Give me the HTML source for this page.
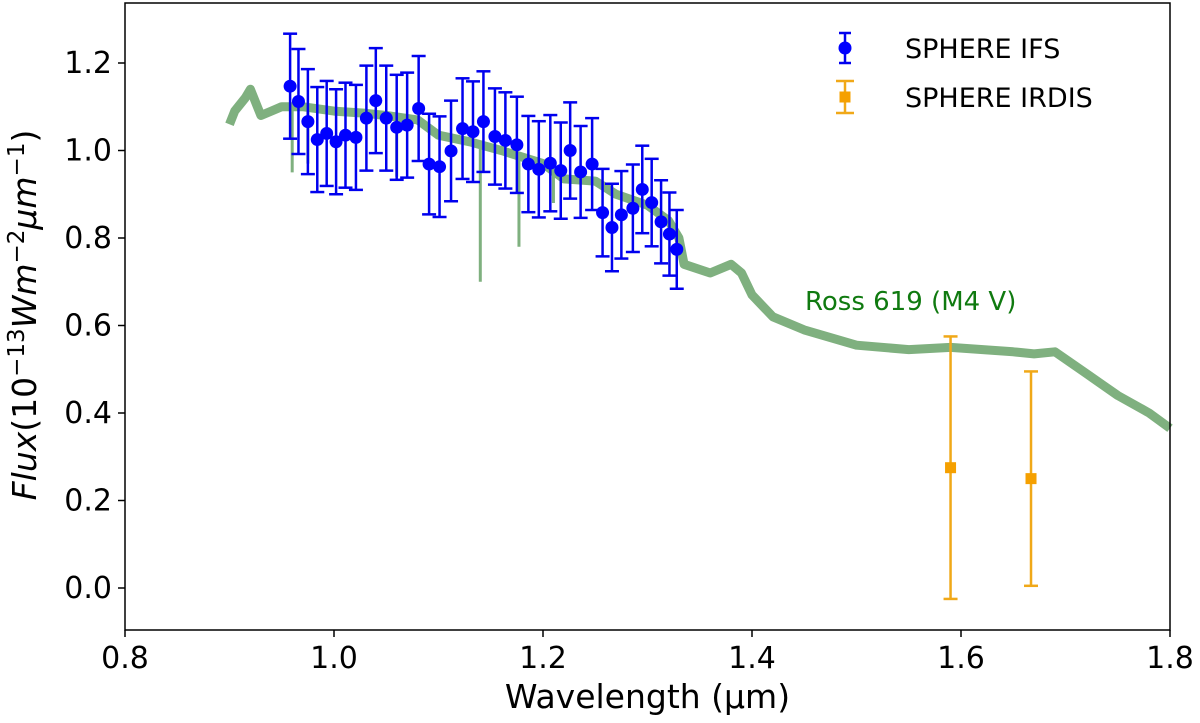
<!DOCTYPE html>
<html><head><meta charset="utf-8"><style>
body{margin:0;background:#fff;}
svg{display:block;font-family:"DejaVu Sans","Liberation Sans",sans-serif;}
</style></head><body>
<svg id="chart" width="1200" height="723">
<g id="plot"></g>
<g id="axes"></g>
</svg>
<script>
const specWl=[0.9,0.905,0.915,0.92,0.93,0.94,0.95,0.97,1.0,1.03,1.05,1.08,1.1,1.13,1.16,1.2,1.22,1.25,1.27,1.3,1.32,1.33,1.335,1.36,1.38,1.39,1.4,1.42,1.45,1.5,1.55,1.59,1.65,1.67,1.69,1.72,1.75,1.78,1.8];
const specFlux=[1.06,1.09,1.12,1.14,1.08,1.09,1.10,1.10,1.09,1.085,1.08,1.07,1.035,1.02,1.0,0.97,0.935,0.93,0.9,0.875,0.84,0.8,0.74,0.72,0.74,0.72,0.67,0.62,0.59,0.555,0.545,0.55,0.54,0.535,0.54,0.49,0.44,0.40,0.365];
const dipWl=[0.96,0.975,1.06,1.14,1.177,1.21];
const dipFlux=[0.95,0.97,0.94,0.70,0.78,0.88];
const ifsWl=[0.958,0.966,0.975,0.984,0.993,1.002,1.011,1.021,1.031,1.040,1.050,1.060,1.070,1.081,1.091,1.101,1.112,1.123,1.133,1.143,1.154,1.164,1.175,1.186,1.196,1.207,1.217,1.226,1.236,1.247,1.257,1.266,1.275,1.286,1.295,1.304,1.313,1.321,1.328];
const ifsFlux=[1.147,1.112,1.066,1.025,1.039,1.020,1.035,1.030,1.074,1.114,1.074,1.053,1.058,1.096,0.969,0.963,0.999,1.050,1.043,1.066,1.032,1.023,1.013,0.969,0.957,0.971,0.954,1.000,0.951,0.969,0.858,0.824,0.853,0.868,0.911,0.881,0.837,0.809,0.774];
const ifsErr=[0.12,0.12,0.12,0.12,0.12,0.12,0.12,0.12,0.12,0.12,0.12,0.12,0.12,0.12,0.115,0.115,0.115,0.115,0.115,0.115,0.11,0.11,0.11,0.11,0.11,0.11,0.11,0.11,0.105,0.105,0.1,0.1,0.1,0.1,0.1,0.1,0.095,0.095,0.09];
const irdWl=[1.59,1.667];
const irdFlux=[0.275,0.25];
const irdErr=[0.30,0.245];
const xTicks=[0.8,1.0,1.2,1.4,1.6,1.8];
const yTicks=[0.0,0.2,0.4,0.6,0.8,1.0,1.2];

const L=125,R=1170,T=3,B=630;
const X=v=>L+(v-0.8)/(1.0)*(R-L);
const Y=v=>588-v*437.5;
const NS='http://www.w3.org/2000/svg';
function mk(tag,parent,attrs){const e=document.createElementNS(NS,tag);for(const k in attrs)e.setAttribute(k,attrs[k]);parent.appendChild(e);return e;}
const plot=document.getElementById('plot'),axes=document.getElementById('axes');

let d='';specWl.forEach((w,i)=>{d+=(i?'L':'M')+X(w).toFixed(1)+','+Y(specFlux[i]).toFixed(1);});
const sp=mk('path',plot,{d:d,fill:'none',stroke:'#7fb07f','stroke-width':9,'stroke-linejoin':'round'});


dipWl.forEach((w,i)=>{
  const ln=mk('line',plot,{x1:X(w),x2:X(w),y1:0,y2:Y(dipFlux[i]),stroke:'#7fb07f','stroke-width':3});
  let base=0;for(let j=0;j<specWl.length-1;j++){if(w>=specWl[j]&&w<=specWl[j+1]){const t=(w-specWl[j])/(specWl[j+1]-specWl[j]);base=specFlux[j]+t*(specFlux[j+1]-specFlux[j]);}}
  ln.setAttribute('y1',Y(base));
  
  
});
const lbl=mk('text',plot,{x:805,y:310,fill:'#107a10','font-size':26});
lbl.textContent='Ross 619 (M4 V)';



function errbar(w,f,e,col,name){
  const g=mk('g',plot,{stroke:col,'stroke-width':2.5});
  
  
  mk('line',g,{x1:X(w),x2:X(w),y1:Y(f-e),y2:Y(f+e)});
  mk('line',g,{x1:X(w)-7,x2:X(w)+7,y1:Y(f-e),y2:Y(f-e)});
  mk('line',g,{x1:X(w)-7,x2:X(w)+7,y1:Y(f+e),y2:Y(f+e)});
  return g;
}
ifsWl.forEach((w,i)=>{
  errbar(w,ifsFlux[i],ifsErr[i],'#0000ee','ifs-errorbar');
  const c=mk('circle',plot,{cx:X(w),cy:Y(ifsFlux[i]),r:6.5,fill:'#0000ff'});
  
  
});
irdWl.forEach((w,i)=>{
  errbar(w,irdFlux[i],irdErr[i],'#f0a818','irdis-errorbar');
  const s=mk('rect',plot,{x:X(w)-5.5,y:Y(irdFlux[i])-5.5,width:11,height:11,fill:'#f5a000'});
  
  
});

const fr=mk('rect',axes,{x:L,y:T,width:R-L,height:B-T,fill:'none',stroke:'#000','stroke-width':1.5});


xTicks.forEach(v=>{
  mk('line',axes,{x1:X(v),x2:X(v),y1:B,y2:B+7,stroke:'#000','stroke-width':1.5});
  const t=mk('text',axes,{x:X(v),y:B+38,'text-anchor':'middle','font-size':30});
  t.textContent=v.toFixed(1);
  
  
});
yTicks.forEach(v=>{
  mk('line',axes,{x1:L-7,x2:L,y1:Y(v),y2:Y(v),stroke:'#000','stroke-width':1.5});
  const t=mk('text',axes,{x:L-13,y:Y(v)+10,'text-anchor':'end','font-size':30});
  t.textContent=v.toFixed(1);
  
  
});
const xt=mk('text',axes,{x:(L+R)/2,y:708,'text-anchor':'middle','font-size':33});
xt.textContent='Wavelength (µm)';


const yt=mk('text',axes,{transform:'translate(36,315) rotate(-90)','text-anchor':'middle','font-size':33});
yt.innerHTML='<tspan font-style="italic">Flux</tspan>(10<tspan dy="-12" font-size="23">−13</tspan><tspan dy="12" font-style="italic">Wm</tspan><tspan dy="-12" font-size="23">−2</tspan><tspan dy="12" font-style="italic">μm</tspan><tspan dy="-12" font-size="23">−1</tspan><tspan dy="12">)</tspan>';



const lg=mk('g',axes,{});


const e1=mk('g',lg,{});


mk('line',e1,{x1:845,x2:845,y1:33,y2:63,stroke:'#0000ee','stroke-width':2.5});
mk('line',e1,{x1:839,x2:851,y1:33,y2:33,stroke:'#0000ee','stroke-width':2.5});
mk('line',e1,{x1:839,x2:851,y1:63,y2:63,stroke:'#0000ee','stroke-width':2.5});
mk('circle',e1,{cx:845,cy:48,r:6.5,fill:'#0000ff'});
const t1=mk('text',e1,{x:905,y:58,'font-size':27});t1.textContent='SPHERE IFS';
const e2=mk('g',lg,{});


mk('line',e2,{x1:845,x2:845,y1:81,y2:113,stroke:'#f0a818','stroke-width':2.5});
mk('line',e2,{x1:836,x2:854,y1:81,y2:81,stroke:'#f0a818','stroke-width':2.5});
mk('line',e2,{x1:836,x2:854,y1:113,y2:113,stroke:'#f0a818','stroke-width':2.5});
mk('rect',e2,{x:839.5,y:91.5,width:11,height:11,fill:'#f5a000'});
const t2=mk('text',e2,{x:905,y:107,'font-size':27});t2.textContent='SPHERE IRDIS';
</script>
</body></html>
